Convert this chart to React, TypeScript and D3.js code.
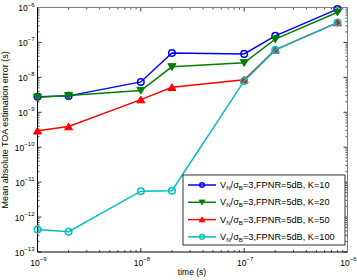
import React from "react";
import * as d3 from "d3";

const times = [1e-9, 2e-9, 1e-8, 2e-8, 1e-7, 2e-7, 8e-7];
const k10 = [2.8e-9, 2.95e-9, 7.4e-9, 5.0e-8, 4.7e-8, 1.54e-7, 9.0e-7];
const k20 = [2.7e-9, 3.0e-9, 4.2e-9, 2.0e-8, 2.6e-8, 1.24e-7, 7.3e-7];
const k50 = [2.95e-10, 3.9e-10, 2.3e-9, 5.2e-9, 8.5e-9, 6.1e-8, 3.7e-7];
const k100 = [4.4e-13, 3.8e-13, 5.5e-12, 5.7e-12, 7.9e-9, 6.1e-8, 3.7e-7];
const kLabels = ["10", "20", "50", "100"];
const xExps = [-9, -8, -7, -6];
const yExps = [-13, -12, -11, -10, -9, -8, -7, -6];

const W = 357, H = 280;
const L = 37.5, R = 347.5, T = 7.5, B = 252;
const FONT = "'Liberation Sans', Arial, sans-serif";

const series = [
  { vals: k10, color: "#0000ff", marker: "circle" },
  { vals: k20, color: "#008000", marker: "down" },
  { vals: k50, color: "#ff0000", marker: "up" },
  { vals: k100, color: "#00bfbf", marker: "circle" },
];

function Marker({ type, x, y, color, s = 4 }: { type: string; x: number; y: number; color: string; s?: number }) {
  if (type === "circle") return <circle cx={x} cy={y} r={s * 0.82} fill="none" stroke={color} strokeWidth={1.5} />;
  if (type === "down")
    return <path d={`M${x - s},${y - s * 0.8}L${x + s},${y - s * 0.8}L${x},${y + s * 0.9}Z`} fill={color} stroke={color} strokeWidth={1} />;
  return <path d={`M${x - s},${y + s * 0.8}L${x + s},${y + s * 0.8}L${x},${y - s * 0.9}Z`} fill={color} stroke={color} strokeWidth={1} />;
}

export default function App() {
  const x = d3.scaleLog().domain([1e-9, 1e-6]).range([L, R]);
  const y = d3.scaleLog().domain([1e-13, 1e-6]).range([B, T]);
  const line = d3.line<[number, number]>().x((d) => x(d[0])).y((d) => y(d[1]));

  const xMinor: number[] = [];
  for (const e of xExps.slice(0, -1)) for (let m = 2; m <= 9; m++) xMinor.push(m * Math.pow(10, e));
  const yMinor: number[] = [];
  for (const e of yExps.slice(0, -1)) for (let m = 2; m <= 9; m++) yMinor.push(m * Math.pow(10, e));

  const legX = 183, legY = 175, legW = 162, legH = 70;

  return (
    <svg width={W} height={H} style={{ position: "absolute", left: 0, top: 0 }} fontFamily={FONT}>
      <rect x={0} y={0} width={W} height={H} fill="#fff" />
      {xExps.map((e) => {
        const px = x(Math.pow(10, e));
        return (
          <g key={"xt" + e} stroke="#000" strokeWidth={0.8}>
            <line x1={px} x2={px} y1={B} y2={B - 4} />
            <line x1={px} x2={px} y1={T} y2={T + 4} />
          </g>
        );
      })}
      {xMinor.map((v, i) => (
        <g key={"xm" + i} stroke="#000" strokeWidth={0.7}>
          <line x1={x(v)} x2={x(v)} y1={B} y2={B - 2} />
          <line x1={x(v)} x2={x(v)} y1={T} y2={T + 2} />
        </g>
      ))}
      {yExps.map((e) => {
        const py = y(Math.pow(10, e));
        return (
          <g key={"yt" + e} stroke="#000" strokeWidth={0.8}>
            <line x1={L} x2={L + 4} y1={py} y2={py} />
            <line x1={R} x2={R - 4} y1={py} y2={py} />
          </g>
        );
      })}
      {yMinor.map((v, i) => (
        <g key={"ym" + i} stroke="#000" strokeWidth={0.7}>
          <line x1={L} x2={L + 2} y1={y(v)} y2={y(v)} />
          <line x1={R} x2={R - 2} y1={y(v)} y2={y(v)} />
        </g>
      ))}
      <line x1={L} x2={R} y1={T} y2={T} stroke="#808080" strokeWidth={1} />
      <line x1={R} x2={R} y1={T} y2={B} stroke="#808080" strokeWidth={1} />
      <line x1={L} x2={R} y1={B} y2={B} stroke="#000" strokeWidth={1} />
      <line x1={L} x2={L} y1={T} y2={B} stroke="#000" strokeWidth={1} />

      {yExps.map((e) => (
        <text key={"yl" + e} x={L - 3} y={y(Math.pow(10, e)) + 3.5} fontSize={8.5} textAnchor="end">
          10
          <tspan fontSize={6} dy={-4.5}>{"\u2212" + Math.abs(e)}</tspan>
        </text>
      ))}
      {xExps.map((e) => (
        <text key={"xl" + e} x={x(Math.pow(10, e)) + 1} y={B + 13.5} fontSize={8.5} textAnchor="middle">
          10
          <tspan fontSize={6} dy={-4.5}>{"\u2212" + Math.abs(e)}</tspan>
        </text>
      ))}

      <text x={192} y={275} fontSize={8.5} textAnchor="middle">time (s)</text>
      <text transform={`translate(8,${(T + B) / 2}) rotate(-90)`} fontSize={9} textAnchor="middle">
        Mean absolute TOA estimation error (s)
      </text>

      {series.map((s, si) => {
        const pts = times.map((t, i) => [t, s.vals[i]] as [number, number]);
        return (
          <g key={"s" + si}>
            <path d={line(pts) || ""} fill="none" stroke={s.color} strokeWidth={1.5} />
            {pts.map((p, i) => (
              <Marker key={i} type={s.marker} x={x(p[0])} y={y(p[1])} color={s.color} />
            ))}
          </g>
        );
      })}

      <rect x={legX} y={legY} width={legW} height={legH} fill="#fff" stroke="#000" strokeWidth={0.8} />
      {series.map((s, i) => {
        const ly = legY + 10 + i * 17.3;
        return (
          <g key={"lg" + i}>
            <line x1={188} x2={216} y1={ly} y2={ly} stroke={s.color} strokeWidth={1.5} />
            <Marker type={s.marker} x={202} y={ly} color={s.color} s={2.8} />
            <text x={220} y={ly + 3} fontSize={9.2}>
              V<tspan fontSize={6.2} dy={2}>N</tspan>
              <tspan dy={-2}>/σ</tspan>
              <tspan fontSize={6.2} dy={2}>B</tspan>
              <tspan dy={-2}>{"=3,FPNR=5dB, K=" + kLabels[i]}</tspan>
            </text>
          </g>
        );
      })}
    </svg>
  );
}
